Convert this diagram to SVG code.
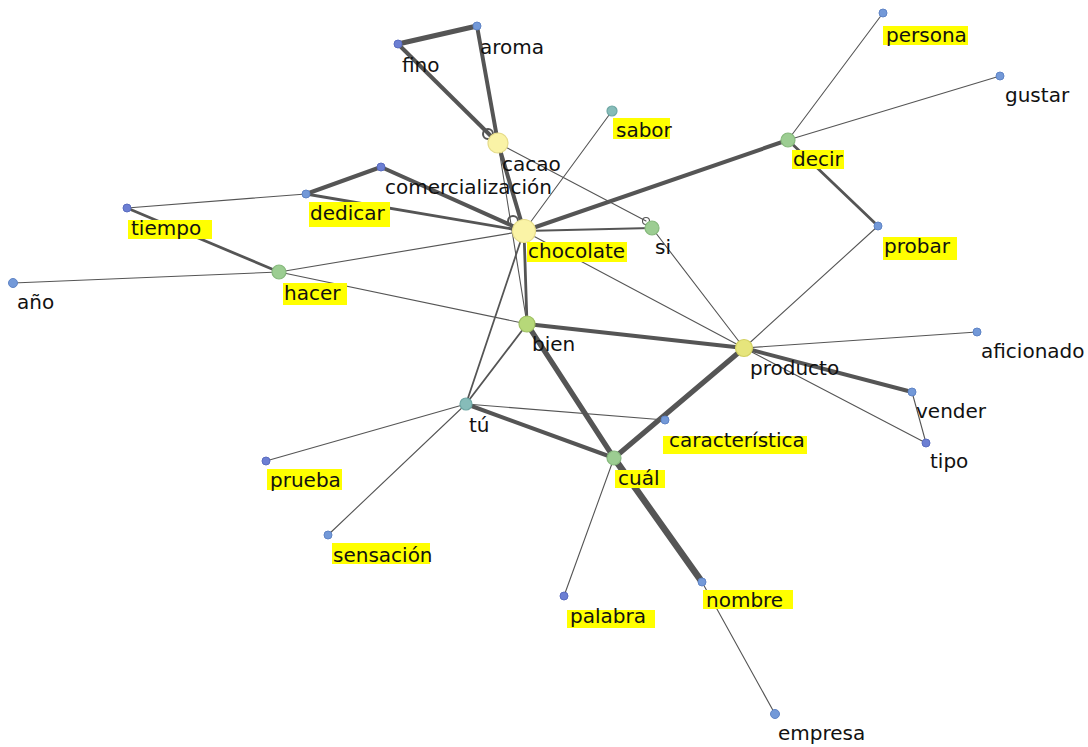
<svg xmlns="http://www.w3.org/2000/svg" width="1088" height="747" viewBox="0 0 1088 747">
<style>
text{font-family:"DejaVu Sans","Liberation Sans",sans-serif;font-size:20px;fill:#111}
.hl{fill:#ffff00}
#edges line{stroke:#555;stroke-linecap:round}
.w1{stroke-width:1.1}
.w2{stroke-width:1.8}
.w3{stroke-width:2.8}
.w4{stroke-width:4}
.w5{stroke-width:5.2}
.w6{stroke-width:6.5}
.blue{fill:#7399d8;stroke:#5f84c6;stroke-width:1}
.ind{fill:#6c7fd3;stroke:#5a6cc0;stroke-width:1}
.yel{fill:#faf3a6;stroke:#e6dc8a;stroke-width:1.2}
.yg{fill:#e6e57c;stroke:#d2d060;stroke-width:1.2}
.grn{fill:#9ccd92;stroke:#86b97c;stroke-width:1.2}
.lime{fill:#b6d879;stroke:#9fc062;stroke-width:1.2}
.teal{fill:#86bcb9;stroke:#6ea7a4;stroke-width:1.2}
.loop{fill:none;stroke:#555;stroke-width:2}
</style>
<rect width="1088" height="747" fill="#ffffff"/>
<g id="edges">
<line class="w5" x1="398" y1="44" x2="477" y2="26"/>
<line class="w4" x1="398" y1="44" x2="498" y2="143"/>
<line class="w4" x1="477" y1="26" x2="498" y2="143"/>
<line class="w4" x1="498" y1="143" x2="524" y2="231"/>
<line class="w1" x1="498" y1="143" x2="527" y2="324"/>
<line class="w1" x1="498" y1="143" x2="646" y2="221"/>
<line class="w4" x1="381" y1="167" x2="524" y2="231"/>
<line class="w4" x1="381" y1="167" x2="306" y2="194"/>
<line class="w3" x1="306" y1="194" x2="524" y2="231"/>
<line class="w1" x1="306" y1="194" x2="127" y2="208"/>
<line class="w3" x1="127" y1="208" x2="279" y2="272"/>
<line class="w1" x1="13" y1="283" x2="279" y2="272"/>
<line class="w1" x1="279" y1="272" x2="524" y2="231"/>
<line class="w1" x1="279" y1="272" x2="527" y2="324"/>
<line class="w1" x1="524" y1="231" x2="612" y2="111"/>
<line class="w4" x1="524" y1="231" x2="788" y2="140"/>
<line class="w2" x1="524" y1="231" x2="652" y2="228"/>
<line class="w1" x1="524" y1="231" x2="744" y2="348"/>
<line class="w2" x1="524" y1="231" x2="466" y2="404"/>
<line class="w3" x1="524" y1="231" x2="527" y2="324"/>
<line class="w1" x1="652" y1="228" x2="744" y2="348"/>
<line class="w1" x1="788" y1="140" x2="883" y2="13"/>
<line class="w1" x1="788" y1="140" x2="1000" y2="76"/>
<line class="w3" x1="788" y1="140" x2="878" y2="226"/>
<line class="w1" x1="878" y1="226" x2="744" y2="348"/>
<line class="w1" x1="744" y1="348" x2="977" y2="332"/>
<line class="w4" x1="744" y1="348" x2="912" y2="392"/>
<line class="w1" x1="744" y1="348" x2="926" y2="443"/>
<line class="w1" x1="912" y1="392" x2="926" y2="443"/>
<line class="w5" x1="744" y1="348" x2="614" y2="458"/>
<line class="w4" x1="527" y1="324" x2="744" y2="348"/>
<line class="w5" x1="527" y1="324" x2="614" y2="458"/>
<line class="w2" x1="527" y1="324" x2="466" y2="404"/>
<line class="w1" x1="466" y1="404" x2="665" y2="420"/>
<line class="w4" x1="466" y1="404" x2="614" y2="458"/>
<line class="w1" x1="466" y1="404" x2="266" y2="461"/>
<line class="w1" x1="466" y1="404" x2="328" y2="535"/>
<line class="w1" x1="614" y1="458" x2="564" y2="596"/>
<line class="w6" x1="614" y1="458" x2="702" y2="582"/>
<line class="w1" x1="702" y1="582" x2="775" y2="714"/>
</g>
<g id="fino"><circle class="ind" cx="398" cy="44" r="4"/><text x="402" y="72">fino</text></g>
<g id="aroma"><circle class="blue" cx="477" cy="26" r="4"/><text x="480" y="54">aroma</text></g>
<g id="cacao"><circle class="loop" cx="488" cy="134" r="5"/><circle class="yel" cx="498" cy="143" r="10"/><text x="502" y="171">cacao</text></g>
<g id="comercializacion"><circle class="ind" cx="381" cy="167" r="4"/><text x="385" y="194">comercialización</text></g>
<g id="dedicar"><circle class="blue" cx="306" cy="194" r="4"/><rect class="hl" x="309" y="202" width="81" height="25"/><text x="310" y="220">dedicar</text></g>
<g id="chocolate"><circle class="loop" cx="513" cy="221" r="5"/><circle class="yel" cx="524" cy="231" r="11.5"/><rect class="hl" x="527" y="242" width="100" height="20"/><text x="528" y="258">chocolate</text></g>
<g id="si"><circle class="loop" cx="646" cy="221" r="3.5" style="stroke-width:1.1"/><circle class="grn" cx="652" cy="228" r="7"/><text x="655" y="254">si</text></g>
<g id="sabor"><circle class="teal" cx="612" cy="111" r="5"/><rect class="hl" x="613" y="118" width="57" height="21"/><text x="616" y="137">sabor</text></g>
<g id="tiempo"><circle class="ind" cx="127" cy="208" r="4"/><rect class="hl" x="128" y="220" width="84" height="19"/><text x="131" y="235">tiempo</text></g>
<g id="ano"><circle class="blue" cx="13" cy="283" r="4.5"/><text x="17" y="309">año</text></g>
<g id="hacer"><circle class="grn" cx="279" cy="272" r="7"/><rect class="hl" x="283" y="283" width="64" height="22"/><text x="284" y="300">hacer</text></g>
<g id="decir"><circle class="grn" cx="788" cy="140" r="7"/><rect class="hl" x="792" y="150" width="52" height="19"/><text x="793" y="166">decir</text></g>
<g id="persona"><circle class="blue" cx="883" cy="13" r="4"/><rect class="hl" x="883" y="26" width="85" height="19"/><text x="886" y="42">persona</text></g>
<g id="gustar"><circle class="blue" cx="1000" cy="76" r="4"/><text x="1005" y="102">gustar</text></g>
<g id="probar"><circle class="blue" cx="878" cy="226" r="4"/><rect class="hl" x="883" y="237" width="74" height="23"/><text x="884" y="253">probar</text></g>
<g id="producto"><circle class="yg" cx="744" cy="348" r="8.5"/><text x="750" y="375">producto</text></g>
<g id="aficionado"><circle class="blue" cx="977" cy="332" r="4"/><text x="981" y="358">aficionado</text></g>
<g id="vender"><circle class="blue" cx="912" cy="392" r="4"/><text x="916" y="418">vender</text></g>
<g id="tipo"><circle class="ind" cx="926" cy="443" r="4"/><text x="930" y="468">tipo</text></g>
<g id="caracteristica"><circle class="blue" cx="665" cy="420" r="4"/><rect class="hl" x="663" y="436" width="144" height="18"/><text x="669" y="447">característica</text></g>
<g id="bien"><circle class="lime" cx="527" cy="324" r="8"/><text x="532" y="351">bien</text></g>
<g id="tu"><circle class="teal" cx="466" cy="404" r="6"/><text x="469" y="432">tú</text></g>
<g id="cual"><circle class="grn" cx="614" cy="458" r="7"/><rect class="hl" x="615" y="470" width="50" height="18"/><text x="618" y="485">cuál</text></g>
<g id="prueba"><circle class="ind" cx="266" cy="461" r="4"/><rect class="hl" x="267" y="469" width="75" height="21"/><text x="270" y="487">prueba</text></g>
<g id="sensacion"><circle class="blue" cx="328" cy="535" r="4"/><rect class="hl" x="332" y="543" width="98" height="21"/><text x="333" y="562">sensación</text></g>
<g id="palabra"><circle class="ind" cx="564" cy="596" r="4"/><rect class="hl" x="567" y="610" width="88" height="18"/><text x="570" y="623">palabra</text></g>
<g id="nombre"><circle class="blue" cx="702" cy="582" r="4"/><rect class="hl" x="703" y="590" width="90" height="19"/><text x="706" y="607">nombre</text></g>
<g id="empresa"><circle class="blue" cx="775" cy="714" r="4.5"/><text x="778" y="740">empresa</text></g>
</svg>
